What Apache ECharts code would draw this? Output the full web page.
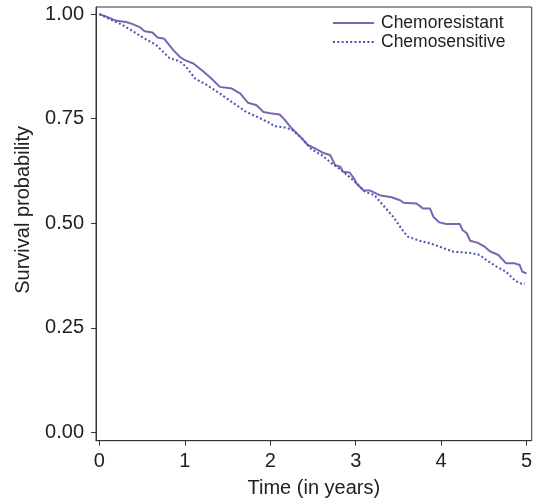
<!DOCTYPE html>
<html>
<head>
<meta charset="utf-8">
<script src="https://cdn.jsdelivr.net/npm/echarts@6/dist/echarts.min.js"></script>
<style>html,body{margin:0;padding:0;background:#fff}#c{width:538px;height:500px}</style>
</head>
<body>
<div id="c"></div>
<script>
const seriesNames = ['Chemoresistant', 'Chemosensitive'];
const xTicks = [0, 1, 2, 3, 4, 5];
const yTicks = [0, 0.25, 0.5, 0.75, 1];

const timeRes = [0,0.08,0.2,0.31,0.39,0.47,0.53,0.62,0.68,0.76,0.86,0.94,1.0,1.10,1.22,1.31,1.41,1.55,1.65,1.74,1.84,1.92,2.0,2.11,2.17,2.25,2.35,2.44,2.54,2.62,2.70,2.76,2.82,2.85,2.93,2.98,3.01,3.09,3.17,3.28,3.42,3.52,3.56,3.71,3.79,3.87,3.91,3.98,4.06,4.22,4.25,4.30,4.34,4.43,4.51,4.57,4.67,4.76,4.86,4.92,4.95,5.0];
const survRes = [1.0,0.994,0.984,0.981,0.976,0.969,0.959,0.956,0.944,0.941,0.915,0.898,0.890,0.882,0.862,0.846,0.826,0.822,0.810,0.788,0.782,0.766,0.763,0.760,0.747,0.727,0.707,0.687,0.677,0.668,0.663,0.639,0.635,0.623,0.621,0.607,0.595,0.579,0.578,0.567,0.562,0.555,0.549,0.547,0.535,0.535,0.515,0.502,0.498,0.498,0.484,0.476,0.458,0.453,0.444,0.433,0.424,0.404,0.404,0.400,0.384,0.380];

const timeSens = [0,0.1,0.27,0.39,0.55,0.66,0.76,0.82,0.94,1.01,1.12,1.26,1.41,1.57,1.72,1.88,2.0,2.05,2.17,2.25,2.37,2.48,2.60,2.72,2.83,2.97,3.11,3.22,3.32,3.44,3.56,3.61,3.75,3.87,4.02,4.14,4.34,4.45,4.53,4.65,4.76,4.86,4.92,4.98];
const survSens = [1.0,0.990,0.974,0.959,0.939,0.927,0.907,0.895,0.887,0.875,0.846,0.830,0.810,0.787,0.766,0.751,0.739,0.732,0.729,0.724,0.703,0.677,0.663,0.643,0.627,0.603,0.575,0.567,0.543,0.515,0.480,0.468,0.458,0.452,0.441,0.432,0.429,0.424,0.412,0.396,0.384,0.364,0.356,0.356];

const zip = (a, b) => a.map((v, i) => [v, b[i]]);
const font = 'Liberation Sans, Arial, Helvetica, sans-serif';
const txt = '#222';
const axisCol = '#333';

const chart = echarts.init(document.getElementById('c'), null, {renderer: 'canvas'});
chart.setOption({
  animation: false,
  backgroundColor: '#fff',
  textStyle: {fontFamily: font},
  grid: {left: 96, top: 7, right: 6.3, bottom: 59.3, show: true, borderColor: axisCol, borderWidth: 1, containLabel: false, outerBoundsMode: 'none'},
  legend: {
    orient: 'vertical', left: 332, top: 13.5, padding: 0,
    itemWidth: 41, itemHeight: 14, itemGap: 0,
    itemStyle: {opacity: 0},
    textStyle: {fontSize: 17.5, color: txt, fontFamily: font, lineHeight: 19, padding: [0, 0, 0, 2]},
    data: seriesNames
  },
  xAxis: {
    type: 'value', min: -0.04, max: 5.06,
    name: 'Time (in years)', nameLocation: 'middle', nameGap: 38,
    nameTextStyle: {fontSize: 20, color: txt, fontFamily: font},
    axisLine: {show: true, onZero: false, lineStyle: {color: axisCol, width: 1}},
    axisTick: {show: true, inside: false, length: 5, lineStyle: {color: axisCol}, customValues: xTicks},
    axisLabel: {show: true, fontSize: 20, color: txt, margin: 11, customValues: xTicks, formatter: v => String(v)},
    splitLine: {show: false}
  },
  yAxis: {
    type: 'value', min: -0.02, max: 1.017,
    name: 'Survival probability', nameLocation: 'middle', nameGap: 63,
    nameTextStyle: {fontSize: 20, color: txt, fontFamily: font, padding: [0, 0, 0, 28]},
    axisLine: {show: true, onZero: false, lineStyle: {color: axisCol, width: 1}},
    axisTick: {show: true, inside: false, length: 5, lineStyle: {color: axisCol}, customValues: yTicks},
    axisLabel: {show: true, fontSize: 20, color: txt, margin: 12, customValues: yTicks, formatter: v => v.toFixed(2)},
    splitLine: {show: false}
  },
  series: [
    {
      name: seriesNames[0], type: 'line', data: zip(timeRes, survRes),
      symbol: 'none', smooth: false,
      lineStyle: {color: '#7866b2', width: 2},
      itemStyle: {color: '#7866b2'}
    },
    {
      name: seriesNames[1], type: 'line', data: zip(timeSens, survSens),
      symbol: 'none', smooth: false,
      lineStyle: {color: '#4656b8', width: 2, type: [2, 2.3]},
      itemStyle: {color: '#4656b8'}
    }
  ]
});
</script>
</body>
</html>
